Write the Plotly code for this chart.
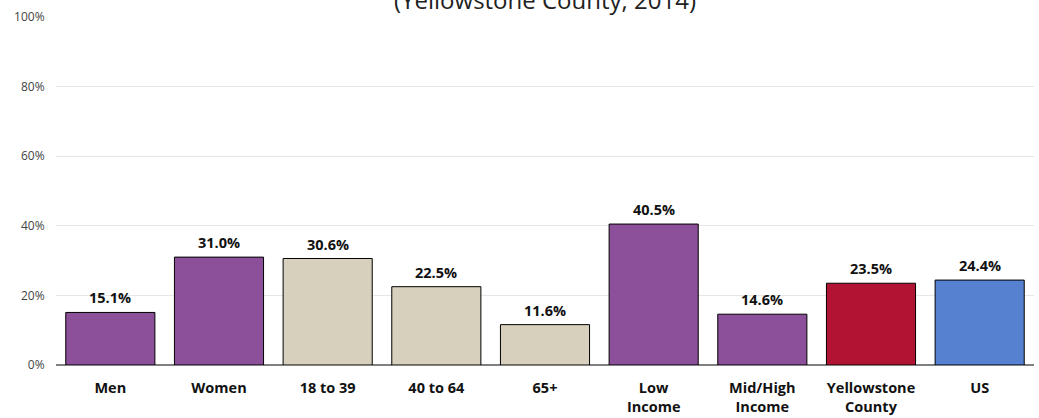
import plotly.graph_objects as go

# data
categories = ["Men", "Women", "18 to 39", "40 to 64", "65+",
              "Low<br>Income", "Mid/High<br>Income", "Yellowstone<br>County", "US"]
values = [15.1, 31.0, 30.6, 22.5, 11.6, 40.5, 14.6, 23.5, 24.4]
bar_colors = ["#8C4F99", "#8C4F99", "#D7D0BC", "#D7D0BC", "#D7D0BC",
              "#8C4F99", "#8C4F99", "#B01432", "#5680D0"]
subtitle = "(Yellowstone County, 2014)"

font_family = "Open Sans, Noto Sans, sans-serif"

fig = go.Figure()
fig.add_trace(go.Bar(
    x=categories,
    y=[v / 100 for v in values],
    marker=dict(color=bar_colors, line=dict(color="#000000", width=1)),
    cliponaxis=False,
))

# value labels sit a little above each bar
for cat, v in zip(categories, values):
    fig.add_annotation(
        x=cat, y=v / 100, text=f"{v:.1f}%",
        showarrow=False, yanchor="bottom", yshift=3,
        font=dict(size=14.5, color="#111111", family=font_family, weight="bold"),
    )

# only the lower half of the heading shows at the very top of the image
fig.add_annotation(
    x=0.5, xref="paper", y=0.998, yref="paper",
    xanchor="center", yanchor="bottom", showarrow=False,
    text=subtitle,
    font=dict(size=24, color="#222222", family=font_family),
)

fig.update_layout(
    width=1039, height=418,
    margin=dict(l=56, r=5, t=17, b=53),
    paper_bgcolor="white",
    plot_bgcolor="white",
    bargap=0.18,
    showlegend=False,
    font=dict(family=font_family),
)

fig.update_xaxes(
    showgrid=False, automargin=False,
    ticks="outside", ticklen=10, tickcolor="rgba(0,0,0,0)",
    tickfont=dict(size=14.5, color="#111111", family=font_family, weight="bold"),
    showline=False,
)
fig.update_yaxes(
    range=[0, 1], dtick=0.2, tickformat=".0%", automargin=False,
    showgrid=True, gridcolor="#E6E6E6", gridwidth=1,
    zeroline=True, zerolinecolor="#808080", zerolinewidth=1.5,
    tickfont=dict(size=12, color="#444444", family=font_family),
    ticks="outside", ticklen=8, tickcolor="rgba(0,0,0,0)",
)

# drop the browser's default body margin so the figure sits at the page corner
fig.write_html("out.html", config={"displayModeBar": False},
               post_script="document.body.style.margin='0';")
